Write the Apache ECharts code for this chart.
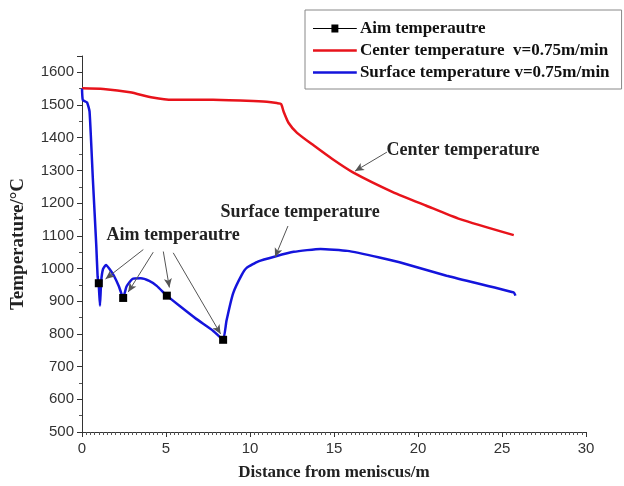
<!DOCTYPE html>
<html>
<head>
<meta charset="utf-8">
<script src="https://cdn.jsdelivr.net/npm/echarts@6/dist/echarts.min.js"></script>
<style>
html,body{margin:0;padding:0;background:#fff;}
#chart{width:624px;height:486px;}
</style>
</head>
<body>
<div id="chart"></div>
<script>
// ---- data ----
var centerX = [0, 1.27, 2.86, 4.2, 5.4, 7.8, 9.8, 11.0, 11.6, 11.85, 12.0, 12.3, 12.8, 13.8, 14.9, 16.1, 18.5, 20.5, 22.5, 25.7];
var centerT = [1551, 1549, 1539, 1523, 1516, 1516, 1513, 1510, 1506, 1503, 1480, 1445, 1415, 1376, 1335, 1295, 1234, 1192, 1151, 1102];

var surfaceX = [0, 0.05, 0.3, 0.45, 0.65, 0.85, 0.93, 1.0, 1.07, 1.14, 1.25, 1.43, 1.65, 1.9, 2.2, 2.45, 2.65, 3.0, 3.5, 4.0, 4.45, 5.05, 5.8, 6.8, 7.8, 8.4, 8.6, 9.0, 9.5, 9.8, 10.5, 11.5, 12.6, 14.2, 15.8, 17.7, 18.9, 21.7, 25.7, 25.8];
var surfaceT = [1550, 1515, 1508, 1480, 1270, 1070, 975, 947, 886, 960, 998, 1011, 998, 978, 945, 910, 945, 968, 970, 962, 947, 917, 886, 846, 810, 782, 840, 925, 980, 1002, 1022, 1037, 1051, 1060, 1054, 1034, 1019, 978, 927, 917];

var aimX = [1.0, 2.45, 5.05, 8.4];
var aimT = [955, 910, 917, 782];

var xTicks = [0, 5, 10, 15, 20, 25, 30];
var yTicks = [500, 600, 700, 800, 900, 1000, 1100, 1200, 1300, 1400, 1500, 1600];

var seriesNames = ['Aim temperautre', 'Center temperature  v=0.75m/min', 'Surface temperature v=0.75m/min'];

// annotation texts and arrows (data coordinates)
var aimLabel = {text: 'Aim temperautre', x: 5.42, y: 1102};
var surfLabel = {text: 'Surface temperature', x: 12.98, y: 1173};
var centLabel = {text: 'Center temperature', x: 22.68, y: 1362};
var arrowFromX = [3.65, 4.24, 4.84, 5.43, 12.26, 18.15];
var arrowFromY = [1058, 1050, 1052, 1048, 1130, 1356];
var arrowToX = [1.4, 2.75, 5.2, 8.25, 11.49, 16.25];
var arrowToY = [968, 928, 942, 800, 1035, 1298];

function pairs(xs, ys) { return xs.map(function (x, i) { return [x, ys[i]]; }); }

var serif = '"Liberation Serif", "Times New Roman", serif';
var sans = '"Liberation Sans", Arial, sans-serif';

// legend icons
var aimIcon = 'path://M0,0L0.05,0L0.05,0.05ZM0,4.5L44,4.5L44,5.5L0,5.5ZM18.5,1L25.5,1L25.5,9L18.5,9ZM0,10L0.05,10L0.05,10.05Z';
var lineIcon = 'path://M0,0L0.05,0L0.05,0.05ZM0,3.8L44,3.8L44,6.2L0,6.2ZM0,10L0.05,10L0.05,10.05Z';

var chart = echarts.init(document.getElementById('chart'));

var arrows = arrowFromX.map(function (x, i) {
  return [{coord: [x, arrowFromY[i]]}, {coord: [arrowToX[i], arrowToY[i]]}];
});
function textPoint(o) {
  return {
    coord: [o.x, o.y], symbol: 'circle', symbolSize: 0,
    itemStyle: {color: 'rgba(0,0,0,0)'},
    label: {show: true, position: 'inside', formatter: o.text, color: '#222',
      fontFamily: serif, fontWeight: 'bold', fontSize: 18}
  };
}

var option = {
  animation: false,
  backgroundColor: '#fff',
  grid: {left: 82, right: 38, top: 56, bottom: 53, containLabel: false},
  legend: {
    orient: 'vertical', left: 305, top: 10,
    padding: [10, 12, 8, 8],
    itemGap: 5, itemWidth: 44, itemHeight: 10,
    borderColor: '#888', borderWidth: 1,
    textStyle: {fontFamily: serif, fontWeight: 'bold', fontSize: 17, color: '#111', padding: [0, 0, 0, -2]},
    data: [
      {name: seriesNames[0], icon: aimIcon, itemStyle: {color: '#000'}},
      {name: seriesNames[1], icon: lineIcon},
      {name: seriesNames[2], icon: lineIcon}
    ]
  },
  xAxis: {
    type: 'value', min: 0, max: 30, interval: 5,
    name: 'Distance from meniscus/m', nameLocation: 'middle', nameGap: 32,
    nameTextStyle: {fontFamily: serif, fontWeight: 'bold', fontSize: 17, color: '#222'},
    axisLine: {lineStyle: {color: '#333', width: 1}},
    axisTick: {show: true, length: 5, inside: false, lineStyle: {color: '#333'}},
    minorTick: {show: true, splitNumber: 20, length: 3, lineStyle: {color: '#555'}},
    axisLabel: {fontFamily: sans, fontSize: 15, color: '#333', margin: 9,
      formatter: function (v) { return xTicks.indexOf(v) >= 0 ? String(v) : ''; }},
    splitLine: {show: false}
  },
  yAxis: {
    type: 'value', min: 500, max: 1650, interval: 100,
    name: 'Temperature/°C', nameLocation: 'middle', nameGap: 54,
    nameTextStyle: {fontFamily: serif, fontWeight: 'bold', fontSize: 19, color: '#222'},
    axisLine: {show: true, lineStyle: {color: '#333', width: 1}},
    axisTick: {show: true, length: 5, lineStyle: {color: '#333'}},
    minorTick: {show: true, splitNumber: 2, length: 3, lineStyle: {color: '#555'}},
    axisLabel: {fontFamily: sans, fontSize: 15, color: '#333', margin: 8, showMaxLabel: false,
      formatter: function (v) { return yTicks.indexOf(v) >= 0 ? String(v) : ''; }},
    splitLine: {show: false}
  },
  series: [
    {
      name: seriesNames[1], type: 'line', data: pairs(centerX, centerT),
      symbol: 'none', smooth: 0.2, color: '#e8131b',
      lineStyle: {width: 2.5, color: '#e8131b'}, z: 2
    },
    {
      name: seriesNames[2], type: 'line', data: pairs(surfaceX, surfaceT),
      symbol: 'none', smooth: 0.15, color: '#1414dc',
      lineStyle: {width: 2.5, color: '#1414dc'}, z: 3
    },
    {
      name: seriesNames[0], type: 'line', data: pairs(aimX, aimT),
      symbol: 'rect', symbolSize: 8, showSymbol: true, color: '#000',
      itemStyle: {color: '#000'},
      lineStyle: {width: 0, opacity: 0}, z: 5,
      markLine: {
        silent: true, symbol: ['none', 'arrow'], symbolSize: [6, 9],
        label: {show: false},
        lineStyle: {color: '#555', width: 1, type: 'solid'},
        emphasis: {disabled: true},
        data: arrows
      },
      markPoint: {
        silent: true,
        data: [textPoint(aimLabel), textPoint(surfLabel), textPoint(centLabel)]
      }
    }
  ]
};
chart.setOption(option);
</script>
</body>
</html>
